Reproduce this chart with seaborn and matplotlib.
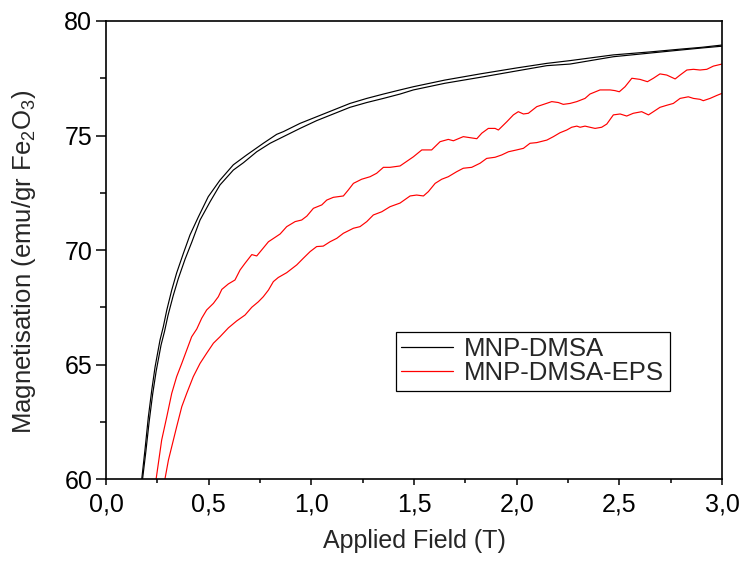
import matplotlib
matplotlib.use('Agg')
import matplotlib.pyplot as plt
from matplotlib.ticker import AutoMinorLocator, FuncFormatter, MultipleLocator
import numpy as np
import pandas as pd
import seaborn as sns

# ─── Data ───────────────────────────────────────────────────────────────────
dmsa_up_x = [0.174, 0.190, 0.206, 0.223, 0.239, 0.263, 0.279, 0.296, 0.320, 0.344,
             0.377, 0.409, 0.450, 0.498, 0.555, 0.620, 0.685, 0.766, 0.831, 0.864,
             0.945, 1.026, 1.107, 1.188, 1.270, 1.351, 1.432, 1.497, 1.650, 1.822,
             2.000, 2.147, 2.260, 2.471, 2.650, 2.796, 2.900, 3.000]
dmsa_up_y = [60.0, 61.3, 62.7, 63.9, 64.9, 66.07, 66.65, 67.38, 68.25, 69.0,
             69.86, 70.66, 71.45, 72.33, 73.05, 73.72, 74.15, 74.66, 75.05, 75.17,
             75.53, 75.82, 76.11, 76.4, 76.62, 76.81, 76.99, 77.13, 77.42, 77.69,
             77.95, 78.15, 78.27, 78.52, 78.65, 78.77, 78.85, 78.95]

dmsa_dn_x = [0.178, 0.194, 0.210, 0.227, 0.244, 0.268, 0.285, 0.302, 0.327, 0.352,
             0.385, 0.418, 0.458, 0.507, 0.555, 0.620, 0.669, 0.734, 0.799, 0.864,
             0.945, 1.026, 1.107, 1.188, 1.270, 1.351, 1.432, 1.497, 1.650, 1.822,
             2.000, 2.147, 2.260, 2.471, 2.650, 2.796, 2.900, 3.000]
dmsa_dn_y = [60.0, 61.2, 62.5, 63.7, 64.7, 65.85, 66.45, 67.15, 68.0, 68.75,
             69.6, 70.35, 71.31, 72.11, 72.84, 73.49, 73.81, 74.29, 74.66, 74.95,
             75.31, 75.65, 75.94, 76.23, 76.44, 76.62, 76.81, 76.99, 77.28, 77.54,
             77.82, 78.05, 78.12, 78.44, 78.6, 78.73, 78.82, 78.9]

eps_up_x = [0.244, 0.255, 0.271, 0.296, 0.320, 0.344, 0.369, 0.393, 0.417, 0.442,
            0.466, 0.490, 0.523, 0.547, 0.564, 0.596, 0.628, 0.653, 0.677, 0.710,
            0.734, 0.758, 0.791, 0.823, 0.848, 0.880, 0.921, 0.953, 0.978, 1.010,
            1.051, 1.075, 1.107, 1.156, 1.180, 1.205, 1.245, 1.286, 1.318, 1.351,
            1.383, 1.432, 1.497, 1.538, 1.586, 1.627, 1.667, 1.692, 1.740, 1.806,
            1.830, 1.862, 1.895, 1.911, 1.952, 1.984, 2.008, 2.033, 2.057, 2.098,
            2.138, 2.171, 2.203, 2.227, 2.260, 2.293, 2.333, 2.357, 2.406, 2.455,
            2.479, 2.500, 2.528, 2.561, 2.601, 2.637, 2.666, 2.698, 2.731, 2.772,
            2.796, 2.829, 2.861, 2.893, 2.926, 2.958, 3.000]
eps_up_y = [60.0, 60.69, 61.7, 62.72, 63.74, 64.47, 65.05, 65.63, 66.21, 66.55,
            67.02, 67.38, 67.67, 67.96, 68.28, 68.52, 68.69, 69.13, 69.42, 69.8,
            69.74, 70.0, 70.36, 70.55, 70.7, 71.02, 71.24, 71.31, 71.48, 71.82,
            71.97, 72.18, 72.3, 72.36, 72.62, 72.91, 73.09, 73.2, 73.35, 73.61,
            73.61, 73.67, 74.07, 74.37, 74.37, 74.73, 74.83, 74.77, 74.95, 74.86,
            75.1, 75.31, 75.31, 75.24, 75.6, 75.9, 76.04, 75.94, 75.97, 76.26,
            76.38, 76.48, 76.44, 76.36, 76.4, 76.48, 76.62, 76.81, 76.99, 76.99,
            76.96, 76.91, 77.13, 77.5, 77.45, 77.35, 77.5, 77.69, 77.64, 77.47,
            77.64, 77.86, 77.89, 77.86, 77.89, 78.03, 78.12]

eps_dn_x = [0.287, 0.304, 0.320, 0.344, 0.369, 0.393, 0.425, 0.458, 0.490, 0.523,
            0.555, 0.596, 0.636, 0.677, 0.710, 0.742, 0.766, 0.791, 0.815, 0.839,
            0.880, 0.929, 0.961, 0.994, 1.026, 1.058, 1.091, 1.124, 1.156, 1.205,
            1.237, 1.270, 1.302, 1.343, 1.383, 1.432, 1.481, 1.513, 1.546, 1.570,
            1.603, 1.635, 1.667, 1.708, 1.740, 1.781, 1.822, 1.854, 1.895, 1.927,
            1.960, 2.000, 2.033, 2.065, 2.098, 2.147, 2.179, 2.211, 2.244, 2.268,
            2.293, 2.309, 2.333, 2.357, 2.382, 2.414, 2.439, 2.471, 2.504, 2.536,
            2.568, 2.609, 2.642, 2.666, 2.698, 2.731, 2.763, 2.796, 2.836, 2.861,
            2.893, 2.909, 2.942, 2.975, 3.000]
eps_dn_y = [60.0, 60.83, 61.41, 62.28, 63.16, 63.74, 64.47, 65.05, 65.49, 65.93,
            66.21, 66.6, 66.9, 67.16, 67.5, 67.74, 67.96, 68.25, 68.62, 68.8,
            69.01, 69.35, 69.64, 69.93, 70.15, 70.17, 70.36, 70.51, 70.73, 70.95,
            71.02, 71.24, 71.53, 71.67, 71.89, 72.05, 72.36, 72.4, 72.36, 72.55,
            72.91, 73.09, 73.2, 73.42, 73.57, 73.61, 73.79, 74.0, 74.05, 74.15,
            74.29, 74.37, 74.44, 74.66, 74.69, 74.8, 74.95, 75.12, 75.24, 75.36,
            75.41, 75.36, 75.41, 75.36, 75.31, 75.36, 75.5, 75.9, 75.94, 75.85,
            75.97, 76.04, 75.9, 76.04, 76.23, 76.32, 76.4, 76.62, 76.69, 76.62,
            76.58, 76.52, 76.62, 76.75, 76.84]

samples = ['MNP-DMSA', 'MNP-DMSA-EPS']
colors = {'MNP-DMSA': 'black', 'MNP-DMSA-EPS': '#ff0000'}

# long table for seaborn
frames = []
for name, branch, xs, ys in [(samples[0], 'up', dmsa_up_x, dmsa_up_y),
                             (samples[0], 'down', dmsa_dn_x, dmsa_dn_y),
                             (samples[1], 'up', eps_up_x, eps_up_y),
                             (samples[1], 'down', eps_dn_x, eps_dn_y)]:
    frames.append(pd.DataFrame({'field': xs, 'mag': ys,
                                'sample': name, 'branch': branch}))
df = pd.concat(frames, ignore_index=True)

# ─── Plot ────────────────────────────────────────────────────────────────────
sns.set_style('ticks')
plt.rcParams['font.family'] = ['Liberation Sans', 'DejaVu Sans']
plt.rcParams['mathtext.default'] = 'regular'

fig = plt.figure(figsize=(7.43, 5.66), dpi=100)
ax = fig.add_axes([0.1427, 0.1537, 0.829, 0.8092])

sns.lineplot(data=df, x='field', y='mag', hue='sample', units='branch',
             estimator=None, sort=False, palette=colors, linewidth=0.85,
             ax=ax, legend=True)

ax.set_xlim(0, 3.0)
ax.set_ylim(60, 80)
ax.xaxis.set_major_locator(MultipleLocator(0.5))
ax.yaxis.set_major_locator(MultipleLocator(5))
ax.xaxis.set_minor_locator(AutoMinorLocator(2))
ax.yaxis.set_minor_locator(AutoMinorLocator(2))
ax.xaxis.set_major_formatter(FuncFormatter(lambda v, p: f"{v:.1f}".replace('.', ',')))
ax.yaxis.set_major_formatter(FuncFormatter(lambda v, p: f"{v:.0f}"))

for s in ax.spines.values():
    s.set_linewidth(1.2)
    s.set_color('black')
ax.tick_params(axis='both', which='both', direction='out', width=1.1,
               labelsize=18, colors='black')
ax.tick_params(axis='x', which='major', length=4.5, pad=5)
ax.tick_params(axis='x', which='minor', length=3)
ax.tick_params(axis='y', which='major', length=7, pad=3)
ax.tick_params(axis='y', which='minor', length=4.5)

ax.set_xlabel('Applied Field (T)', fontsize=18)
ax.set_ylabel('Magnetisation (emu/gr Fe$_2$O$_3$)', fontsize=18.5)
ax.xaxis.set_label_coords(0.5, -0.11)
ax.yaxis.set_label_coords(-0.110, 0.475)

handles, labels = ax.get_legend_handles_labels()
leg = ax.legend(handles, labels, loc='upper left', bbox_to_anchor=(0.470, 0.322),
                borderaxespad=0, fontsize=18.5, frameon=True, fancybox=False,
                framealpha=1, edgecolor='black', handlelength=2.0,
                handletextpad=0.45, labelspacing=0.0, borderpad=0.22)
leg.get_frame().set_linewidth(0.9)
for line in leg.get_lines():
    line.set_linewidth(0.9)

fig.savefig('out.png', dpi=100)
